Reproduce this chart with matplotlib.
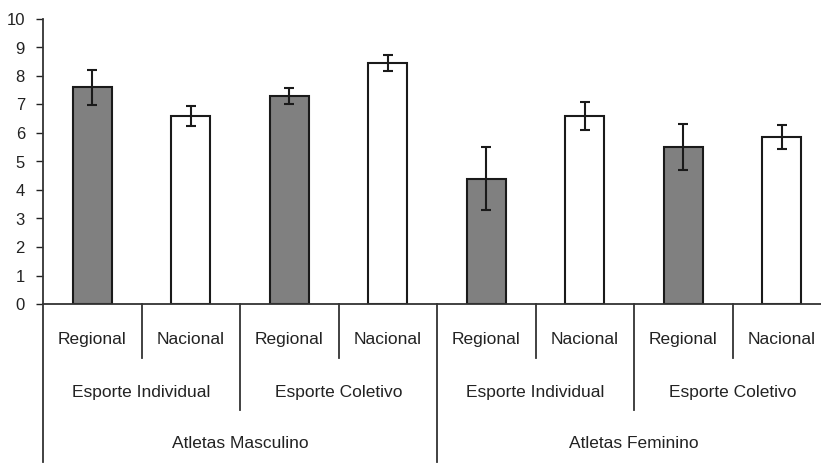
import numpy as np
import matplotlib
matplotlib.use('Agg')
import matplotlib.pyplot as plt

plt.rcParams['font.family'] = ['Liberation Sans Narrow', 'Liberation Sans', 'DejaVu Sans']

niveis = ['Regional', 'Nacional'] * 4
esportes = ['Esporte Individual', 'Esporte Coletivo'] * 2
atletas = ['Atletas Masculino', 'Atletas Feminino']
medias = [7.6, 6.6, 7.3, 8.45, 4.4, 6.6, 5.5, 5.85]
desvios = [0.62, 0.35, 0.28, 0.28, 1.1, 0.48, 0.8, 0.42]
cores = ['#808080', 'white'] * 4

W, H = 821, 469
fig = plt.figure(figsize=(W / 100, H / 100), dpi=100)
x0, y0, y10, slot = 43, 304, 19, 98.5
ax = fig.add_axes([x0 / W, (H - y0) / H, 8 * slot / W, (y0 - y10) / H])

x = np.arange(len(medias)) + 0.5
ax.bar(x, medias, width=0.4, color=cores, edgecolor='#1a1a1a', linewidth=1.5, zorder=2)
ax.errorbar(x, medias, yerr=desvios, fmt='none', ecolor='#1a1a1a',
            elinewidth=1.5, capsize=3.5, capthick=1.5, zorder=3)

ax.set_xlim(0, 8)
ax.set_ylim(0, 10)
ax.set_yticks(range(0, 11))
ax.tick_params(axis='y', direction='out', length=5, width=1, labelsize=12,
               colors='#222222', pad=8)
ax.set_xticks([])
for s in ['top', 'right']:
    ax.spines[s].set_visible(False)
ax.spines['left'].set_linewidth(1.3)
ax.spines['bottom'].set_linewidth(1.3)
ax.spines['left'].set_color('#333333')
ax.spines['bottom'].set_color('#333333')

# hierarchical category axis below the bars
tr = ax.get_xaxis_transform()
px = 1.0 / (y0 - y10)
lv1, lv2, lv3 = -(358 - y0) * px, -(410 - y0) * px, -(462 - y0) * px
lc = dict(color='#333333', lw=1.3, clip_on=False, transform=tr)
for i in range(9):
    if i % 4 == 0:
        bottom = lv3
    elif i % 2 == 0:
        bottom = lv2
    else:
        bottom = lv1
    ax.plot([i, i], [0, bottom], **lc)

tc = dict(transform=tr, ha='center', va='center', fontsize=12.5, color='#222222')
for i, nome in enumerate(niveis):
    ax.text(i + 0.5, -(339 - y0) * px, nome, **tc)
for i, nome in enumerate(esportes):
    ax.text(2 * i + 1, -(392 - y0) * px, nome, **tc)
for i, nome in enumerate(atletas):
    ax.text(4 * i + 2, -(443 - y0) * px, nome, **tc)

fig.savefig('out.png', dpi=100)
